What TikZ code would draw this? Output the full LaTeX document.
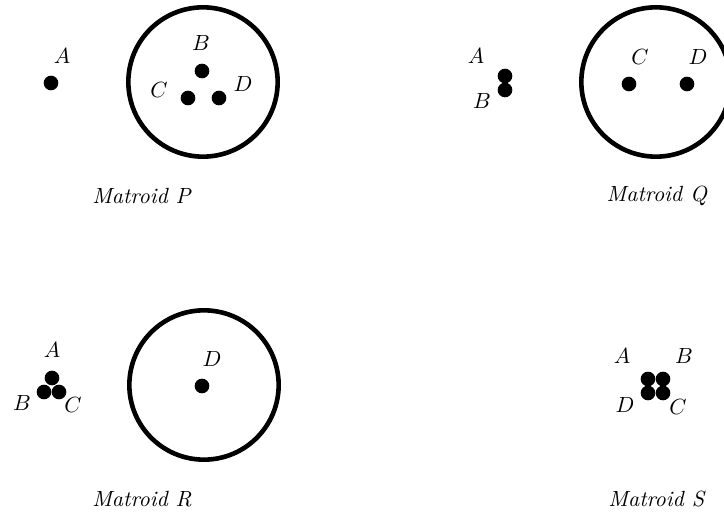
\documentclass[tikz,border=0pt]{standalone}
\begin{document}
\begin{tikzpicture}[x=0.016cm,y=-0.016cm,
  pt/.style={circle,fill=black,inner sep=0pt,minimum size=0.234cm},
  ring/.style={circle,draw=black,line width=2.1pt,inner sep=0pt,minimum size=2.39cm},
  lbl/.style={inner sep=0pt},
  captext/.style={inner sep=0pt}]
\useasboundingbox (0,0) rectangle (724,515);
% Matroid P
\node[pt] (pA) at (51,83) {};
\node[lbl] (pAl) at (62,56) {$A$};
\node[ring] (pR) at (203,82) {};
\node[pt] (pB) at (202,71) {};
\node[pt] (pC) at (188,98) {};
\node[pt] (pD) at (219,98) {};
\node[lbl] (pBl) at (201,43) {$B$};
\node[lbl] (pCl) at (159,90) {$C$};
\node[lbl] (pDl) at (243,84) {$D$};
\node[captext] (pcap) at (142,196) {\textit{Matroid P}};
% Matroid Q
\node[pt] (qA) at (505,76) {};
\node[pt] (qB) at (505,90) {};
\node[lbl] (qAl) at (476,56) {$A$};
\node[lbl] (qBl) at (482,101) {$B$};
\node[ring] (qR) at (656,82) {};
\node[pt] (qC) at (629,84) {};
\node[pt] (qD) at (687,84) {};
\node[lbl] (qCl) at (640,57) {$C$};
\node[lbl] (qDl) at (698,57) {$D$};
\node[captext] (qcap) at (657,196) {\textit{Matroid Q}};
% Matroid R
\node[pt] (rA) at (52,378) {};
\node[pt] (rB) at (44,392) {};
\node[pt] (rC) at (59,392) {};
\node[lbl] (rAl) at (52,350) {$A$};
\node[lbl] (rBl) at (22,403) {$B$};
\node[lbl] (rCl) at (73,405) {$C$};
\node[ring] (rR) at (204,385) {};
\node[pt] (rD) at (202,386) {};
\node[lbl] (rDl) at (212,359) {$D$};
\node[captext] (rcap) at (142,499) {\textit{Matroid R}};
% Matroid S
\node[pt] (sA) at (648,379) {};
\node[pt] (sB) at (663,379) {};
\node[pt] (sD) at (648,393) {};
\node[pt] (sC) at (663,393) {};
\node[lbl] (sAl) at (622,356) {$A$};
\node[lbl] (sBl) at (684,356) {$B$};
\node[lbl] (sDl) at (625,405) {$D$};
\node[lbl] (sCl) at (678,407) {$C$};
\node[captext] (scap) at (657,499) {\textit{Matroid S}};
\end{tikzpicture}
\end{document}
